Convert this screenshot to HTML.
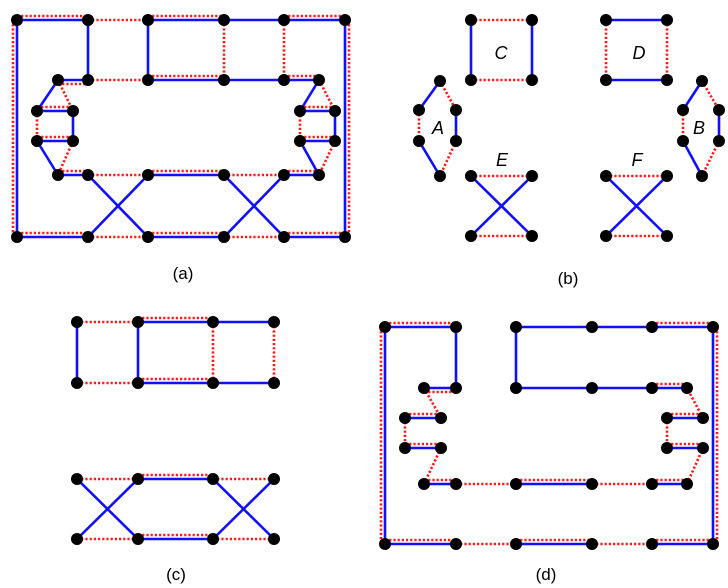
<!DOCTYPE html>
<html><head><meta charset="utf-8"><style>
html,body{margin:0;padding:0;background:#fff;}
svg{display:block;}
text{font-family:"Liberation Sans",sans-serif;}
</style></head><body>
<svg id="fig" width="728" height="588" viewBox="0 0 728 588" xmlns="http://www.w3.org/2000/svg">
<g id="edges"></g>
<g id="nodes"></g>
<g font-size="17" fill="#000">
<text x="183" y="279" text-anchor="middle">(a)</text>
<text x="568" y="284" text-anchor="middle">(b)</text>
<text x="176" y="580" text-anchor="middle">(c)</text>
<text x="546" y="580" text-anchor="middle">(d)</text>
<g font-style="italic" font-size="18" text-anchor="middle">
<text x="501" y="59">C</text>
<text x="639" y="59">D</text>
<text x="438" y="134">A</text>
<text x="699" y="134">B</text>
<text x="502" y="166">E</text>
<text x="637" y="166">F</text>
</g>
</g>
</svg>
<script>
// edges: [x1,y1,x2,y2,type,dx,dy]  b=blue, r=red dotted, br=blue with parallel red
const panelA = [
[17,20,88,20,'br',0,-4],[88,20,88,80,'b'],[88,20,148,20,'r'],[148,20,224,20,'br',0,-4],[224,20,284,20,'b'],[284,20,345,20,'br',0,-4],
[345,20,345,237,'br',4,0],[17,20,17,237,'br',-4,0],[148,20,148,80,'b'],[224,20,224,80,'r'],[284,20,284,80,'r'],
[58,80,88,80,'br',0,4],[88,80,148,80,'r'],[148,80,224,80,'br',0,-4],[224,80,284,80,'b'],[284,80,319,80,'br',0,-4],
[58,80,37,111,'b'],[58,80,73,111,'r'],[37,111,73,111,'br',0,-4],[37,111,37,141,'r'],[73,111,73,141,'b'],
[37,141,73,141,'br',0,-4],[37,141,58,175,'b'],[73,141,58,175,'r'],
[58,175,88,175,'br',0,-4],[88,175,148,175,'r'],[148,175,224,175,'br',0,-4],[224,175,284,175,'r'],[284,175,319,175,'br',0,-4],
[88,175,148,237,'b'],[148,175,88,237,'b'],[224,175,284,237,'b'],[284,175,224,237,'b'],
[319,80,300,111,'b'],[319,80,335,111,'r'],[300,111,335,111,'br',0,-4],[300,111,300,141,'r'],[335,111,335,141,'b'],
[300,141,335,141,'br',0,-4],[300,141,319,175,'b'],[335,141,319,175,'r'],
[17,237,88,237,'br',0,-4],[88,237,148,237,'r'],[148,237,224,237,'br',0,-4],[224,237,284,237,'r'],[284,237,345,237,'br',0,-4]
];
const panelB = [
[471,20,532,20,'r'],[471,20,471,80,'b'],[532,20,532,80,'b'],[471,80,532,80,'r'],
[606,20,667,20,'b'],[606,20,606,80,'r'],[667,20,667,80,'r'],[606,80,667,80,'b'],
[440,81,419,110,'b'],[440,81,456,110,'r'],[419,110,419,141,'r'],[456,110,456,141,'b'],[419,141,440,176,'b'],[456,141,440,176,'r'],
[702,81,683,110,'b'],[702,81,719,110,'r'],[683,110,683,141,'r'],[719,110,719,141,'b'],[683,141,702,176,'b'],[719,141,702,176,'r'],
[471,176,532,176,'r'],[471,236,532,236,'r'],[471,176,532,236,'b'],[532,176,471,236,'b'],
[606,176,667,176,'r'],[606,236,667,236,'r'],[606,176,667,236,'b'],[667,176,606,236,'b']
];
const panelC = [
[77,322,138,322,'r'],[77,322,77,383,'b'],[77,383,138,383,'r'],[138,322,138,383,'b'],
[138,322,213,322,'br',0,-4],[138,383,213,383,'br',0,-4],[213,322,213,383,'r'],[213,322,274,322,'b'],[274,322,274,383,'r'],[213,383,274,383,'b'],
[77,479,138,479,'r'],[138,479,213,479,'br',0,-4],[213,479,274,479,'r'],
[77,479,138,539,'b'],[138,479,77,539,'b'],[213,479,274,539,'b'],[274,479,213,539,'b'],
[77,539,138,539,'r'],[138,539,213,539,'br',0,-4],[213,539,274,539,'r']
];
const panelD = [
[385,327,456,327,'br',0,-4],[456,327,456,388,'b'],[424,388,456,388,'br',0,4],[424,388,441,418,'r'],
[405,418,441,418,'br',0,-4],[405,418,405,448,'r'],[405,448,441,448,'br',0,-4],[441,448,424,484,'r'],
[424,484,456,484,'br',0,-4],[456,484,516,484,'r'],[516,484,592,484,'br',0,-4],[592,484,652,484,'r'],[652,484,687,484,'br',0,-4],
[687,484,703,448,'r'],[667,448,703,448,'br',0,-4],[667,418,667,448,'r'],[667,418,703,418,'br',0,-4],[703,418,687,388,'r'],
[652,388,687,388,'br',0,-4],[516,388,592,388,'b'],[592,388,652,388,'b'],[516,327,516,388,'b'],[516,327,592,327,'b'],[592,327,652,327,'b'],[652,327,713,327,'br',0,-4],
[713,327,713,544,'br',4,0],[385,327,385,544,'br',-4,0],
[385,544,456,544,'br',0,-4],[456,544,516,544,'r'],[516,544,592,544,'br',0,-4],[592,544,652,544,'r'],[652,544,713,544,'br',0,-4]
];
const NS='http://www.w3.org/2000/svg';
const eg=document.getElementById('edges'), ng=document.getElementById('nodes');
const seen={};
function line(x1,y1,x2,y2,red){
  const l=document.createElementNS(NS,'line');
  l.setAttribute('x1',x1);l.setAttribute('y1',y1);l.setAttribute('x2',x2);l.setAttribute('y2',y2);
  l.setAttribute('stroke',red?'#ff1a1a':'#1010ff');
  l.setAttribute('stroke-width','2.6');
  if(red)l.setAttribute('stroke-dasharray','2.2,2');
  
  
  eg.appendChild(l);
}
function node(x,y){
  const k=x+','+y; if(seen[k])return; seen[k]=1;
  const c=document.createElementNS(NS,'circle');
  c.setAttribute('cx',x);c.setAttribute('cy',y);c.setAttribute('r','6');c.setAttribute('fill','#000');
  
  
  ng.appendChild(c);
}
[panelA,panelB,panelC,panelD].forEach(P=>P.forEach(e=>{
  const [x1,y1,x2,y2,t,dx,dy]=e;
  if(t==='br'){line(x1+dx,y1+dy,x2+dx,y2+dy,true);line(x1,y1,x2,y2,false);}
  else line(x1,y1,x2,y2,t==='r');
  node(x1,y1);node(x2,y2);
}));
</script>
</body></html>
